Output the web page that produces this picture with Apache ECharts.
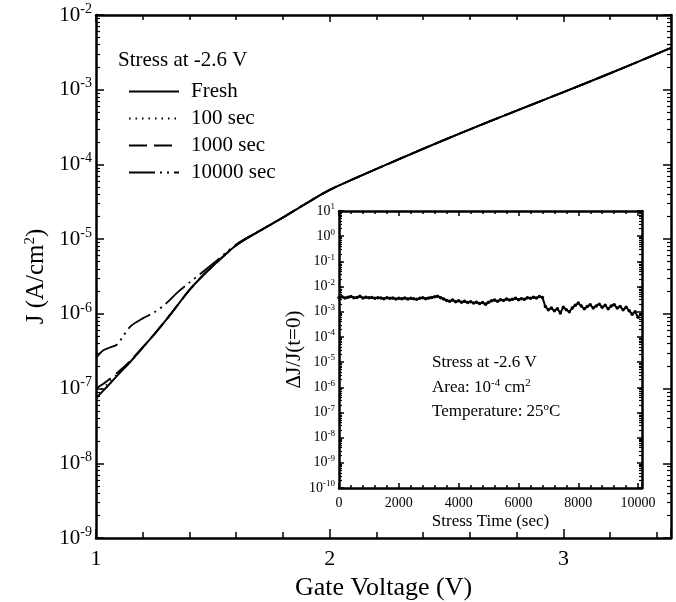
<!DOCTYPE html>
<html><head><meta charset="utf-8">
<script src="https://cdn.jsdelivr.net/npm/echarts@6/dist/echarts.min.js"></script>
<style>html,body{margin:0;padding:0;background:#fff}#c{width:676px;height:602px}</style>
</head><body><div id="c"></div>
<script>
// ---------- data ----------
const seriesNames = ['Fresh', '100 sec', '1000 sec', '10000 sec'];
const voltage = [1.0, 1.03, 1.06, 1.09, 1.12, 1.15, 1.2, 1.25, 1.3, 1.35, 1.4, 1.45, 1.5, 1.6, 1.7, 1.8, 1.9, 2.0, 2.2, 2.4, 2.6, 2.8, 3.0, 3.2, 3.46];
const jFresh = [7.4e-8, 9.3e-8, 1.17e-7, 1.48e-7, 1.86e-7, 2.34e-7, 3.55e-7, 5.37e-7, 8.3e-7, 1.32e-6, 2.09e-6, 3.09e-6, 4.37e-6, 8.3e-6, 1.29e-5, 1.95e-5, 3.02e-5, 4.57e-5, 8.7e-5, 1.62e-4, 2.95e-4, 5.25e-4, 9.3e-4, 1.66e-3, 3.63e-3];
const j100 = [8.5e-8, 1.02e-7, 1.26e-7, 1.55e-7, 1.9e-7, 2.34e-7, 3.55e-7, 5.37e-7, 8.3e-7, 1.32e-6, 2.09e-6, 3.09e-6, 4.37e-6, 8.3e-6, 1.29e-5, 1.95e-5, 3.02e-5, 4.57e-5, 8.7e-5, 1.62e-4, 2.95e-4, 5.25e-4, 9.3e-4, 1.66e-3, 3.63e-3];
const j1000 = [1.0e-7, 1.15e-7, 1.35e-7, 1.62e-7, 1.95e-7, 2.4e-7, 3.55e-7, 5.37e-7, 8.3e-7, 1.32e-6, 2.09e-6, 3.09e-6, 4.37e-6, 8.3e-6, 1.29e-5, 1.95e-5, 3.02e-5, 4.57e-5, 8.7e-5, 1.62e-4, 2.95e-4, 5.25e-4, 9.3e-4, 1.66e-3, 3.63e-3];
const j10000 = [2.57e-7, 3.24e-7, 3.55e-7, 3.89e-7, 5.25e-7, 6.92e-7, 8.7e-7, 1.05e-6, 1.38e-6, 1.95e-6, 2.63e-6, 3.5e-6, 4.68e-6, 8.5e-6, 1.29e-5, 1.95e-5, 3.02e-5, 4.57e-5, 8.7e-5, 1.62e-4, 2.95e-4, 5.25e-4, 9.3e-4, 1.66e-3, 3.63e-3];

const stressTime = [0, 100, 200, 300, 400, 500, 600, 700, 800, 900, 1000,
  1100, 1200, 1300, 1400, 1500, 1600, 1700, 1800, 1900, 2000,
  2100, 2200, 2300, 2400, 2500, 2600, 2700, 2800, 2900, 3000,
  3100, 3200, 3300, 3400, 3500, 3600, 3700, 3800, 3900, 4000,
  4100, 4200, 4300, 4400, 4500, 4600, 4700, 4800, 4900, 5000,
  5100, 5200, 5300, 5400, 5500, 5600, 5700, 5800, 5900, 6000,
  6100, 6200, 6300, 6400, 6500, 6600, 6700, 6800, 6900, 7000,
  7100, 7200, 7300, 7400, 7500, 7600, 7700, 7800, 7900, 8000,
  8100, 8200, 8300, 8400, 8500, 8600, 8700, 8800, 8900, 9000,
  9100, 9200, 9300, 9400, 9500, 9600, 9700, 9800, 9900, 10000];
const deltaJ = [0.0036, 0.0039, 0.0035, 0.0038, 0.0040, 0.0036, 0.0037, 0.0041, 0.0035, 0.0038, 0.0036,
  0.0037, 0.0034, 0.0036, 0.0035, 0.0033, 0.0036, 0.0034, 0.0035, 0.0032, 0.0034,
  0.0033, 0.0035, 0.0032, 0.0034, 0.0033, 0.0031, 0.0034, 0.0036, 0.0033, 0.0035,
  0.0037, 0.0039, 0.0041, 0.0036, 0.0032, 0.0028, 0.0026, 0.0029, 0.0025, 0.0027,
  0.0024, 0.0026, 0.0023, 0.0025, 0.0022, 0.0024, 0.0021, 0.0023, 0.0020, 0.0024,
  0.0027, 0.0029, 0.0026, 0.0030, 0.0028, 0.0032, 0.0029, 0.0031, 0.0034, 0.0030,
  0.0033, 0.0031, 0.0036, 0.0034, 0.0038, 0.0035, 0.0040, 0.0037, 0.0016, 0.0012,
  0.0014, 0.0011, 0.0013, 0.0009, 0.0015, 0.0012, 0.0010, 0.0014, 0.0018, 0.0022,
  0.0017, 0.0013, 0.0016, 0.0019, 0.0014, 0.0017, 0.0020, 0.0015, 0.0018, 0.0013,
  0.0017, 0.0019, 0.0014, 0.0016, 0.0012, 0.0015, 0.0011, 0.0008, 0.0010, 0.0006];

const mainYExp = [-9, -2];      // decades shown on main y axis
const insetYExp = [-10, 1];     // decades shown on inset y axis
const mainXRange = [1, 3.46];
const insetXRange = [0, 10130];

// ---------- helpers ----------
const F = '"Liberation Serif", "Times New Roman", serif';
function minorLogTicks(lo, hi) {
  const out = [];
  for (let e = lo; e < hi; e++) for (let m = 2; m <= 9; m++) out.push(e + Math.log10(m));
  return out;
}
function pairs(xs, ys) { return xs.map((x, i) => [x, ys[i]]); }
const black = '#000';

function expAxis(grid, range, side, opts) {
  return Object.assign({
    type: 'value', gridIndex: grid, min: range[0], max: range[1], interval: 1, position: side,
    axisLine: { show: false, onZero: false }, axisTick: { show: false }, axisLabel: { show: false },
    splitLine: { show: false }
  }, opts);
}

const mainLabelRich = {
  b: { fontFamily: F, fontSize: 21, color: black },
  s: { fontFamily: F, fontSize: 14, color: black, padding: [0, 0, 12, 0] }
};
const insetLabelRich = {
  b: { fontFamily: F, fontSize: 14, color: black },
  s: { fontFamily: F, fontSize: 9, color: black, padding: [0, 0, 8, 0] }
};
const noteRich = {
  n: { fontFamily: F, fontSize: 17, fill: black },
  s: { fontFamily: F, fontSize: 11, fill: black, padding: [0, 0, 9, 0] }
};

const chart = echarts.init(document.getElementById('c'), null, { renderer: 'canvas' });

const option = {
  animation: false,
  backgroundColor: '#fff',
  grid: [
    { left: 96, right: 5, top: 15, bottom: 64, containLabel: false, outerBoundsMode: 'none' },
    { left: 339, right: 34, top: 211, bottom: 114, containLabel: false, outerBoundsMode: 'none' }
  ],
  legend: {
    data: seriesNames, orient: 'vertical', left: 123, top: 76,
    itemWidth: 50, itemHeight: 20, itemGap: 6, selectedMode: false,
    itemStyle: { opacity: 0 },
    textStyle: { fontFamily: F, fontSize: 21, color: black, padding: [0, 0, 0, 7] }
  },
  xAxis: [
    { type: 'value', gridIndex: 0, min: mainXRange[0], max: mainXRange[1], interval: 1, position: 'bottom',
      axisLine: { onZero: false, lineStyle: { color: black, width: 2.5 } },
      axisTick: { inside: true, length: 9, lineStyle: { color: black, width: 1.5 } },
      minorTick: { show: true, splitNumber: 5, length: 6, lineStyle: { color: black, width: 1.5 } },
      axisLabel: { fontFamily: F, fontSize: 22, color: black, margin: 10, showMaxLabel: false },
      splitLine: { show: false }, minorSplitLine: { show: false },
      name: 'Gate Voltage (V)', nameLocation: 'middle', nameGap: 33,
      nameTextStyle: { fontFamily: F, fontSize: 26, color: black } },
    { type: 'value', gridIndex: 0, min: mainXRange[0], max: mainXRange[1], interval: 1, position: 'top',
      axisLine: { onZero: false, lineStyle: { color: black, width: 2.5 } },
      axisTick: { inside: true, length: 7, lineStyle: { color: black, width: 1.5 } },
      minorTick: { show: true, splitNumber: 5, length: 5, lineStyle: { color: black, width: 1.5 } },
      axisLabel: { show: false }, splitLine: { show: false } },
    { type: 'value', gridIndex: 1, min: insetXRange[0], max: insetXRange[1], interval: 2000, position: 'bottom',
      axisLine: { onZero: false, lineStyle: { color: black, width: 2.5 } },
      axisTick: { inside: true, length: 5, lineStyle: { color: black, width: 1.5 } },
      minorTick: { show: true, splitNumber: 5, length: 3, lineStyle: { color: black, width: 1.5 } },
      axisLabel: { fontFamily: F, fontSize: 14, color: black, margin: 8, showMaxLabel: false, formatter: v => String(v) },
      splitLine: { show: false },
      name: 'Stress Time (sec)', nameLocation: 'middle', nameGap: 25,
      nameTextStyle: { fontFamily: F, fontSize: 17, color: black } },
    { type: 'value', gridIndex: 1, min: insetXRange[0], max: insetXRange[1], interval: 2000, position: 'top',
      axisLine: { onZero: false, lineStyle: { color: black, width: 2.5 } },
      axisTick: { inside: true, length: 5, lineStyle: { color: black, width: 1.5 } },
      minorTick: { show: true, splitNumber: 5, length: 3, lineStyle: { color: black, width: 1.5 } },
      axisLabel: { show: false }, splitLine: { show: false } }
  ],
  yAxis: [
    // 0: main data axis (log)
    { type: 'log', logBase: 10, gridIndex: 0, min: Math.pow(10, mainYExp[0]), max: Math.pow(10, mainYExp[1]), show: false },
    // 1: main left labels / major ticks
    expAxis(0, mainYExp, 'left', {
      axisLine: { show: true, onZero: false, lineStyle: { color: black, width: 2.5 } },
      axisTick: { show: true, inside: true, length: 8, lineStyle: { color: black, width: 1.5 } },
      axisLabel: { show: true, margin: 4, formatter: v => '{b|10}{s|' + v + '}', rich: mainLabelRich },
      name: '{a|J (A/cm}{s|2}{a|)}', nameLocation: 'middle', nameGap: 43, nameRotate: 90,
      nameTextStyle: { rich: {
        a: { fontFamily: F, fontSize: 25, color: black },
        s: { fontFamily: F, fontSize: 15, color: black, padding: [0, 0, 12, 0] } } }
    }),
    // 2: main left minor ticks
    expAxis(0, mainYExp, 'left', {
      axisTick: { show: true, inside: true, length: 4, customValues: minorLogTicks(mainYExp[0], mainYExp[1]), lineStyle: { color: black, width: 1.2 } }
    }),
    // 3: main right major
    expAxis(0, mainYExp, 'right', {
      axisLine: { show: true, onZero: false, lineStyle: { color: black, width: 2.5 } },
      axisTick: { show: true, inside: true, length: 8, lineStyle: { color: black, width: 1.5 } }
    }),
    // 4: main right minor
    expAxis(0, mainYExp, 'right', {
      axisTick: { show: true, inside: true, length: 4, customValues: minorLogTicks(mainYExp[0], mainYExp[1]), lineStyle: { color: black, width: 1.2 } }
    }),
    // 5: inset data axis (log)
    { type: 'log', logBase: 10, gridIndex: 1, min: Math.pow(10, insetYExp[0]), max: Math.pow(10, insetYExp[1]), show: false },
    // 6: inset left labels
    expAxis(1, insetYExp, 'left', {
      axisLine: { show: true, onZero: false, lineStyle: { color: black, width: 2.5 } },
      axisTick: { show: true, inside: true, length: 5, lineStyle: { color: black, width: 1.5 } },
      axisLabel: { show: true, margin: 4, formatter: v => '{b|10}{s|' + v + '}', rich: insetLabelRich },
      name: 'ΔJ/J(t=0)', nameLocation: 'middle', nameGap: 32, nameRotate: 90,
      nameTextStyle: { fontFamily: F, fontSize: 21, color: black }
    }),
    // 7: inset left minor
    expAxis(1, insetYExp, 'left', {
      axisTick: { show: true, inside: true, length: 3, customValues: minorLogTicks(insetYExp[0], insetYExp[1]), lineStyle: { color: black, width: 1.2 } }
    }),
    // 8: inset right major
    expAxis(1, insetYExp, 'right', {
      axisLine: { show: true, onZero: false, lineStyle: { color: black, width: 2.5 } },
      axisTick: { show: true, inside: true, length: 5, lineStyle: { color: black, width: 1.5 } }
    }),
    // 9: inset right minor
    expAxis(1, insetYExp, 'right', {
      axisTick: { show: true, inside: true, length: 3, customValues: minorLogTicks(insetYExp[0], insetYExp[1]), lineStyle: { color: black, width: 1.2 } }
    })
  ],
  series: [
    { name: seriesNames[0], type: 'line', xAxisIndex: 0, yAxisIndex: 0, symbol: 'none', smooth: 0.3, data: pairs(voltage, jFresh),
      lineStyle: { color: black, width: 2, type: 'solid' }, itemStyle: { color: black }, z: 3 },
    { name: seriesNames[1], type: 'line', xAxisIndex: 0, yAxisIndex: 0, symbol: 'none', smooth: 0.3, data: pairs(voltage, j100),
      lineStyle: { color: black, width: 1.5, type: [1.5, 5] }, itemStyle: { color: black }, z: 4 },
    { name: seriesNames[2], type: 'line', xAxisIndex: 0, yAxisIndex: 0, symbol: 'none', smooth: 0.3, data: pairs(voltage, j1000),
      lineStyle: { color: black, width: 2, type: [18, 7] }, itemStyle: { color: black }, z: 4 },
    { name: seriesNames[3], type: 'line', xAxisIndex: 0, yAxisIndex: 0, symbol: 'none', smooth: 0.3, data: pairs(voltage, j10000),
      lineStyle: { color: black, width: 1.8, type: [26, 5, 2, 5, 2, 5] }, itemStyle: { color: black }, z: 4 },
    { name: 'inset', type: 'line', xAxisIndex: 2, yAxisIndex: 5, data: pairs(stressTime, deltaJ),
      symbol: 'circle', symbolSize: 3.5, showSymbol: true,
      lineStyle: { color: black, width: 2 }, itemStyle: { color: black }, z: 5 }
  ],
  graphic: [
    { type: 'text', x: 118, y: 60, style: { text: 'Stress at -2.6 V', font: '21px ' + F, fill: black, verticalAlign: 'middle' } },
    { type: 'text', x: 432, y: 363, style: { text: 'Stress at -2.6 V', font: '17px ' + F, fill: black, verticalAlign: 'middle' } },
    { type: 'text', x: 432, y: 388, style: { text: '{n|Area: 10}{s|-4}{n| cm}{s|2}', verticalAlign: 'middle', rich: noteRich } },
    { type: 'text', x: 432, y: 412, style: { text: '{n|Temperature: 25}{s|o}{n|C}', verticalAlign: 'middle', rich: noteRich } }
  ]
};
chart.setOption(option);
</script>
</body></html>
